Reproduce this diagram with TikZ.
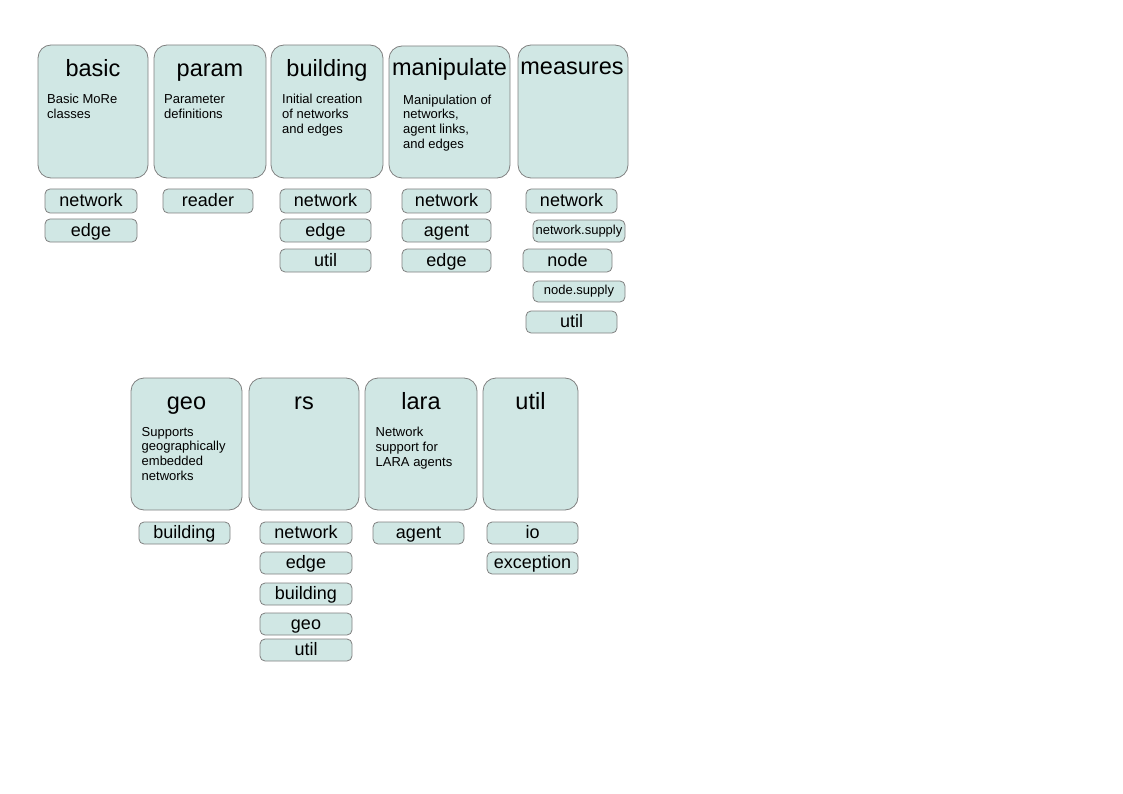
\documentclass[tikz,border=0pt]{standalone}
\usepackage{fontspec}
\setmainfont{Liberation Sans}
\usepackage{tikz}
\definecolor{pkgfill}{RGB}{208,231,228}
\definecolor{pkgline}{RGB}{128,128,128}

\begin{document}
\begin{tikzpicture}[x=1pt,y=1pt]
\tikzstyle{every node}+=[inner sep=0pt]
\tikzstyle{pkg}=[draw=pkgline, fill=pkgfill, rounded corners=13pt, line width=0.8pt]
\tikzstyle{sub}=[draw=pkgline, fill=pkgfill, rounded corners=5pt, line width=0.8pt, minimum height=23pt, text height=13pt, text depth=1.4pt, font=\fontsize{18}{18}\selectfont]
\tikzstyle{smallsub}=[sub, minimum height=22pt, text height=9.5pt, text depth=2.6pt, font=\fontsize{13}{13}\selectfont]
\tikzstyle{title}=[anchor=base, font=\fontsize{23.5}{23.5}\selectfont]
\tikzstyle{desc}=[anchor=north west, align=left, font=\fontsize{13}{14.8}\selectfont]
\useasboundingbox (0,0) rectangle (1123,-794);
% top row of packages
\node[pkg, minimum width=110pt, minimum height=133pt] (basic) at (93,-111.5) {};
\node[title] (basictitle) at (93,-77) {basic};
\node[desc] (basicdesc) at (47,-94.3) {Basic MoRe\\classes};
\node[pkg, minimum width=112pt, minimum height=133pt] (param) at (210,-111.5) {};
\node[title] (paramtitle) at (210,-77) {param};
\node[desc] (paramdesc) at (164,-94.3) {Parameter\\definitions};
\node[pkg, minimum width=112pt, minimum height=133pt] (building) at (327,-111.5) {};
\node[title] (buildingtitle) at (327,-77) {building};
\node[desc] (buildingdesc) at (282,-94.3) {Initial creation\\of networks\\and edges};
\node[pkg, minimum width=121pt, minimum height=132pt] (manipulate) at (449.5,-112) {};
\node[title] (manipulatetitle) at (449.5,-76) {manipulate};
\node[desc] (manipulatedesc) at (403,-94.5) {Manipulation of\\networks,\\agent links,\\and edges};
\node[pkg, minimum width=110pt, minimum height=133pt] (measures) at (573,-111.5) {};
\node[title] (measurestitle) at (572,-75) {measures};
% sub packages, top row
\node[sub, minimum width=92pt, minimum height=24pt] (basicnetwork) at (91,-201) {network};
\node[sub, minimum width=92pt] (basicedge) at (91,-230.5) {edge};
\node[sub, minimum width=90pt, minimum height=24pt] (paramreader) at (208,-201) {reader};
\node[sub, minimum width=91pt, minimum height=24pt] (buildingnetwork) at (325.5,-201) {network};
\node[sub, minimum width=91pt] (buildingedge) at (325.5,-230.5) {edge};
\node[sub, minimum width=91pt] (buildingutil) at (325.5,-260.5) {util};
\node[sub, minimum width=89pt, minimum height=24pt] (manipulatenetwork) at (446.5,-201) {network};
\node[sub, minimum width=89pt] (manipulateagent) at (446.5,-230.5) {agent};
\node[sub, minimum width=89pt] (manipulateedge) at (446.5,-260.5) {edge};
\node[sub, minimum width=91pt, minimum height=24pt] (measuresnetwork) at (571.5,-201) {network};
\node[smallsub, minimum width=92pt] (measuresnetsupply) at (579,-231) {network.supply};
\node[sub, minimum width=89pt] (measuresnode) at (567.5,-260.5) {node};
\node[smallsub, minimum width=92pt, minimum height=21pt] (measuresnodesupply) at (579,-291.5) {node.supply};
\node[sub, minimum width=91pt, minimum height=22pt] (measuresutil) at (571.5,-322) {util};
% bottom row of packages
\node[pkg, minimum width=111pt, minimum height=132pt] (geo) at (186.5,-444) {};
\node[title] (geotitle) at (186.5,-409) {geo};
\node[desc] (geodesc) at (141.5,-426.8) {Supports\\geographically\\embedded\\networks};
\node[pkg, minimum width=110pt, minimum height=132pt] (rs) at (304,-444) {};
\node[title] (rstitle) at (304,-409) {rs};
\node[pkg, minimum width=112pt, minimum height=132pt] (lara) at (421,-444) {};
\node[title] (laratitle) at (421,-409) {lara};
\node[desc] (laradesc) at (375.5,-426.8) {Network\\support for\\LARA agents};
\node[pkg, minimum width=95pt, minimum height=132pt] (utilpkg) at (530.5,-444) {};
\node[title] (utiltitle) at (530.5,-409) {util};
% sub packages, bottom row
\node[sub, minimum width=91pt, minimum height=22pt] (geobuilding) at (184.5,-533) {building};
\node[sub, minimum width=92pt, minimum height=22pt] (rsnetwork) at (306,-533) {network};
\node[sub, minimum width=92pt, minimum height=22pt] (rsedge) at (306,-563) {edge};
\node[sub, minimum width=92pt, minimum height=22pt] (rsbuilding) at (306,-594) {building};
\node[sub, minimum width=92pt, minimum height=22pt] (rsgeo) at (306,-624) {geo};
\node[sub, minimum width=92pt, minimum height=22pt] (rsutil) at (306,-650) {util};
\node[sub, minimum width=91pt, minimum height=22pt] (laraagent) at (418.5,-533) {agent};
\node[sub, minimum width=91pt, minimum height=22pt] (utilio) at (532.5,-533) {io};
\node[sub, minimum width=91pt, minimum height=22pt] (utilexception) at (532.5,-563) {exception};
\end{tikzpicture}
\end{document}
